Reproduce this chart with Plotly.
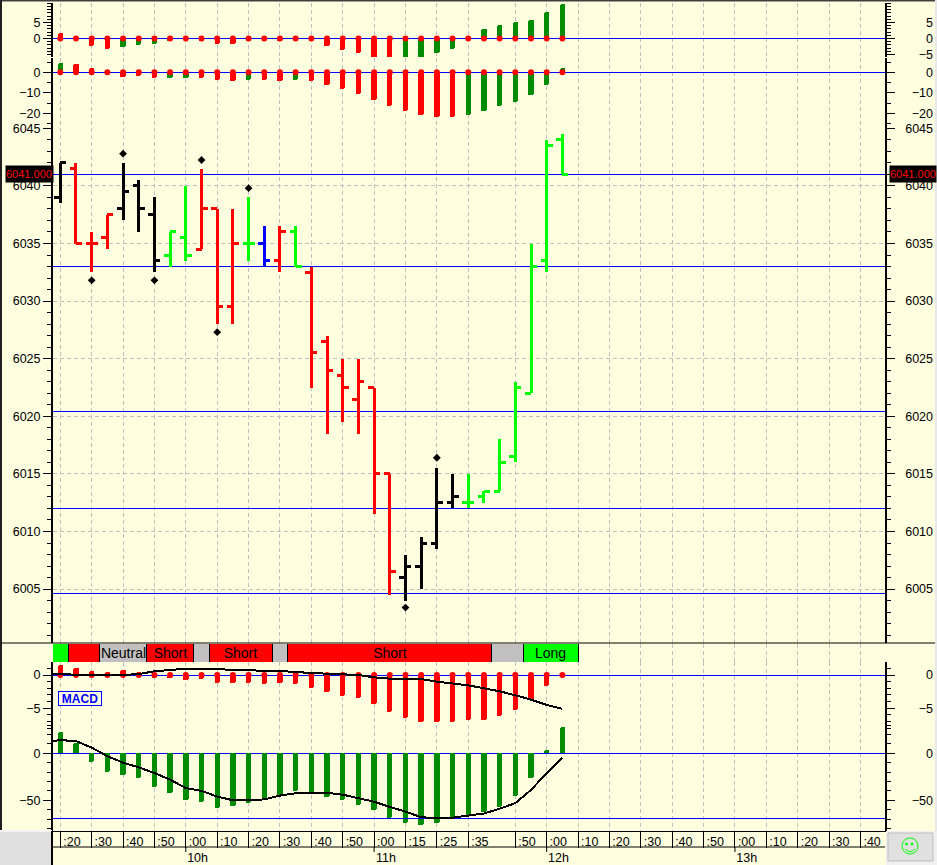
import plotly.graph_objects as go

W, H = 937, 865
BG = "#FFFFE0"
RED, LIME, DKGREEN, BLUE, GRID = "#FF0000", "#00FF00", "#008C00", "#0000FF", "#C0C0C0"

# ---- data -----
bar_index = list(range(33))

open_ = [6039,6041.5,6035,6035.5,6038,6040,6037.5,6034,6035.5,6034.5,6038,6029.5,6035,6035,6033.5,6036,6032.5,
         6026.5,6023.5,6021.5,6022.5,6015,6006,6007,6009,6012.5,6012.5,6013,6013.5,6016.5,6022,6033.5,6044]
high = [6042,6042,6036,6037.5,6042,6040.5,6039,6036,6040,6041.5,6038,6038,6039,6036.5,6036.5,6036.5,6033,
        6027,6025,6025,6022.5,6015,6008,6009.5,6015.5,6015,6015,6013.5,6018,6023,6035,6044,6044.5]
low = [6038.5,6035,6032.5,6034.5,6037,6036,6032.5,6033,6033.5,6034.5,6028,6028,6033.5,6033,6032.5,6033,6022.5,
       6018.5,6019.5,6018.5,6011.5,6004.5,6004,6005,6008.5,6012,6012,6012.5,6013.5,6016,6022,6032.5,6041]
close = [6042,6035,6035,6037.5,6039.5,6038,6033.5,6036,6034,6038,6029.5,6035,6035,6033.5,6036,6033,6025.5,
         6024,6022.5,6023,6015,6006.5,6007,6009,6012.5,6013,6012.5,6013.5,6016,6022.5,6033,6043.5,6041]
bar_color = ["k","r","r","r","k","k","k","g","g","r","r","r","g","b","r","g","r",
             "r","r","r","r","r","k","k","k","k","g","g","g","g","g","g","g"]

diamond_x = [2, 4, 6, 9, 10, 12, 22, 24]
diamond_y = [6031.8, 6042.8, 6031.8, 6042.25, 6027.3, 6039.8, 6003.4, 6016.4]
price_levels = [6041, 6033, 6020.4, 6012, 6004.6]

p1_vals = [1.6,0,-2.4,-3.4,-2.8,-2.1,-1.8,-0.9,0,-0.9,-1.6,-1.6,-0.9,-0.8,-0.9,0,-0.8,
           -2.5,-3.7,-4.7,-6,-6.3,-6.3,-6,-4.7,-3.2,0,2.8,4.3,5,5.9,8.1,10.6]
p1_cols = ["r","r","r","r","g","g","g","g","r","r","r","r","g","g","r","r","r",
           "r","r","r","r","r","g","g","g","g","r","g","g","g","g","g","g"]
p2_vals = [4.4,3.9,2,-1,-2.3,-2,-2.6,-2.6,-2.6,-2.6,-3.6,-4,-3.6,-3.6,-4,-3.6,-4,
           -6,-8,-10.4,-13.3,-16.3,-18.7,-20.6,-22,-22,-20.6,-18.7,-16.3,-14.3,-10.9,-6,2]
p2_cols = ["g","r","r","r","r","r","r","g","g","r","r","r","g","r","r","g","r",
           "r","r","r","r","r","r","r","r","r","g","g","g","g","g","g","g"]

macd_a_vals = [1.5,1,0.6,0.5,0.7,0.4,-0.4,-0.4,-0.8,-0.6,-1.2,-1.2,-1.2,-1.4,-1.2,-1.4,-2,
               -2.6,-3.2,-3.5,-4.4,-5.6,-6.5,-7,-7,-7,-6.8,-6.7,-6.2,-5.3,-3.8,-1.7,0]
macd_a_line_x = [-0.47] + bar_index
macd_a_line = [0.1,0.1,0.1,0,0,0,0.15,0.55,0.75,0.95,0.9,0.8,0.8,0.75,0.6,0.6,0.4,0.3,
               0.2,0.05,0,-0.35,-0.55,-0.6,-0.6,-1,-1.25,-1.55,-2,-2.45,-3.05,-3.7,-4.5,-5.1]
macd_b_vals = [23,10.6,-9,-19.5,-23,-26,-35.5,-42,-50,-51.5,-58,-56.5,-52.5,-49,-44,-40,-42,
               -46,-50,-54.6,-60,-68.5,-74,-76,-74,-68.5,-67,-62,-56.7,-45,-26,3,27.6]
macd_b_line = [13,14,13,6,-3,-10,-15,-21,-28,-37,-40,-46,-50,-50,-49,-45,-42.5,-42,
               -42,-44,-48,-51.5,-57,-62,-68,-69,-68.5,-66,-64,-59,-53,-39,-21,-4.6]
macd_b_level = -69

band_edges = [-0.5,0.5,2.5,5.5,8.5,9.5,13.5,14.5,27.5,29.5,33]
band_labels = ["","","Neutral","Short","","Short","","Short","","Long"]
band_colors = [LIME,RED,GRID,RED,GRID,RED,GRID,RED,GRID,LIME]

grid_ticks = [0,2,4,6,8,10,12,14,16,18,20,22,24,26,29,31,33,35,37,39,41,43,45,47,49,51]
minute_labels = [":20",":30",":40",":50",":00",":10",":20",":30",":40",":50",":00",":15",":25",":35",
                 ":50",":00",":10",":20",":30",":40",":50",":00",":10",":20",":30",":40"]
hour_ticks = [8,20,31,43]
hour_labels = ["10h","11h","12h","13h"]

# ---- geometry helpers -----
X0, X1 = 53, 885
PX_PER_BAR = 15.69
def xval(px): return (px - 60.3) / PX_PER_BAR
XR = [xval(X0), xval(X1)]
def ypaper(px): return 1 - px / H
def panel(top, bot, y0_px, y0_val, px_per_unit):
    return dict(domain=[ypaper(bot), ypaper(top)],
                range=[y0_val + (y0_px - bot) / px_per_unit, y0_val + (y0_px - top) / px_per_unit])

COL = {"k": "#000000", "r": RED, "g": LIME, "b": BLUE}
BARCOL = {"r": RED, "g": DKGREEN}
FONT = "Liberation Sans"

panels = [
    dict(geo=panel(3, 57, 38.4, 0, 3.2), left=[5, 0], right=[5, 0, -5], minor=1, zero=True),
    dict(geo=panel(58, 128, 72.3, 0, 2.05), left=[0, -10, -20], right=[0, -10, -20], minor=5, zero=True),
    dict(geo=panel(128, 643, 128.3, 6045, 11.52), left=list(range(6045, 6004, -5)), right=list(range(6045, 6004, -5)), minor=1, zero=False),
    None,  # band
    dict(geo=panel(662, 729, 675, 0, 6.65), left=[0, -5], right=[0, -5], minor=1, zero=True),
    dict(geo=panel(725, 831, 753.3, 0, 0.94), left=[0, -50], right=[0, -50], minor=10, zero=True),
]

fig = go.Figure()
layout = {}
XAX = dict(range=XR, domain=[X0 / W, X1 / W], tickmode="array", fixedrange=True)
layout["xaxis"] = dict(XAX, anchor="y6", tickvals=grid_ticks, showticklabels=False, ticks="outside", ticklen=16,
                       tickcolor="#000", tickwidth=1, showgrid=True, gridcolor=GRID, griddash="4px,3px", gridwidth=1,
                       showline=True, linecolor="#000", linewidth=1, zeroline=False)
pos831 = ypaper(831)
tick_font = dict(family=FONT, size=12.5, color="#000")
layout["xaxis2"] = dict(XAX, overlaying="x", anchor="free", position=pos831, tickvals=[t + 0.74 for t in grid_ticks],
                        ticktext=minute_labels, ticks="", showgrid=False, showline=False, zeroline=False,
                        tickfont=tick_font, ticklabelstandoff=1)
layout["xaxis3"] = dict(XAX, overlaying="x", anchor="free", position=pos831, tickvals=[t + 0.75 for t in hour_ticks],
                        ticktext=hour_labels, ticks="", showgrid=False, showline=False, zeroline=False,
                        tickfont=tick_font, ticklabelstandoff=17)

def add_hidden(x, y, xaxis="x"):
    fig.add_trace(go.Scatter(x=[x], y=[y], xaxis=xaxis, yaxis=y_name, mode="markers", marker=dict(opacity=0, size=1),
                             hoverinfo="skip", showlegend=False))

next_ax = 7
for n, p in enumerate(panels, start=1):
    if p is None:
        continue
    minor = dict(ticks="outside", ticklen=4, tickcolor="#000", tickwidth=1, tickmode="linear", tick0=0, dtick=p["minor"], showgrid=False)
    common = dict(p["geo"], fixedrange=True, tickmode="array")
    key = "yaxis" if n == 1 else f"yaxis{n}"
    is_price = n == 3
    layout[key] = dict(common, anchor="x", side="left", tickvals=p["left"], ticks="outside", ticklen=8, tickcolor="#000",
                       tickwidth=1, minor=minor, showline=True, linecolor="#000", linewidth=2, tickfont=tick_font,
                       showgrid=is_price, gridcolor=GRID, griddash="4px,3px", gridwidth=1,
                       zeroline=p["zero"], zerolinecolor=BLUE, zerolinewidth=1, tickformat="d")
    rk = next_ax; next_ax += 1
    main_ref = "y" if n == 1 else f"y{n}"
    layout[f"yaxis{rk}"] = dict(common, anchor="x", side="right", overlaying=main_ref, tickvals=p["right"], ticks="outside",
                                ticklen=8, tickcolor="#000", tickwidth=1, minor=minor, showline=True, linecolor="#000",
                                linewidth=2, showticklabels=False, showgrid=False, zeroline=False)
    y_name = f"y{rk}"; add_hidden(0, p["right"][0])
    lk = next_ax; next_ax += 1
    layout[f"yaxis{lk}"] = dict(common, anchor="free", position=933 / W, side="left", overlaying=main_ref, tickvals=p["right"],
                                ticks="", showline=False, tickfont=tick_font, showgrid=False, zeroline=False, tickformat="d")
    y_name = f"y{lk}"; add_hidden(0, p["right"][0])

y_name = "y6"; add_hidden(0, 0, "x2"); add_hidden(0, 0, "x3")

BAR_W = 5.4 / PX_PER_BAR
def osc(vals, cols, yaxis):
    fig.add_trace(go.Bar(x=bar_index, y=vals, width=BAR_W, yaxis=yaxis, showlegend=False, hoverinfo="skip",
                         marker=dict(color=cols, line=dict(width=0), cornerradius=2)))
def dots(yaxis):
    fig.add_trace(go.Scatter(x=bar_index, y=[0] * len(bar_index), yaxis=yaxis, mode="markers", showlegend=False, hoverinfo="skip",
                             marker=dict(color=RED, size=6, line=dict(width=0))))

osc(p1_vals, [BARCOL[c] for c in p1_cols], "y"); dots("y")
osc(p2_vals, [BARCOL[c] for c in p2_cols], "y2"); dots("y2")

for lv in price_levels:
    fig.add_trace(go.Scatter(x=XR, y=[lv, lv], yaxis="y3", mode="lines", line=dict(color=BLUE, width=1),
                             showlegend=False, hoverinfo="skip"))
TICK = 6 / PX_PER_BAR
for key, color in COL.items():
    xs, ys = [], []
    for i, c in enumerate(bar_color):
        if c != key:
            continue
        xs += [i, i, None, i - TICK, i, None, i, i + TICK, None]
        ys += [low[i], high[i], None, open_[i], open_[i], None, close[i], close[i], None]
    fig.add_trace(go.Scatter(x=xs, y=ys, yaxis="y3", mode="lines", line=dict(color=color, width=3),
                             showlegend=False, hoverinfo="skip", connectgaps=False))
fig.add_trace(go.Scatter(x=diamond_x, y=diamond_y, yaxis="y3", mode="markers", showlegend=False, hoverinfo="skip",
                         marker=dict(symbol="diamond", color="#000", size=6, line=dict(width=0))))

layout["yaxis4"] = dict(domain=[ypaper(662), ypaper(643.5)], range=[0, 1], anchor="x", visible=False, fixedrange=True)
centres = [(a + b) / 2 for a, b in zip(band_edges[:-1], band_edges[1:])]
widths = [b - a for a, b in zip(band_edges[:-1], band_edges[1:])]
fig.add_trace(go.Bar(x=centres, y=[1] * len(centres), width=widths, yaxis="y4", text=band_labels, textposition="inside",
                     insidetextanchor="middle", textangle=0, constraintext="none", showlegend=False, hoverinfo="skip",
                     textfont=dict(family=FONT, size=14, color="#000"), marker=dict(color=band_colors, line=dict(width=0))))
sx, sy = [], []
for e in band_edges[1:]:
    sx += [e, e, None]; sy += [0, 1, None]
fig.add_trace(go.Scatter(x=sx, y=sy, yaxis="y4", mode="lines", line=dict(color="#000", width=1), showlegend=False, hoverinfo="skip"))

osc(macd_a_vals, [RED] * len(macd_a_vals), "y5"); dots("y5")
fig.add_trace(go.Scatter(x=macd_a_line_x, y=macd_a_line, yaxis="y5", mode="lines", line=dict(color="#000", width=2), showlegend=False, hoverinfo="skip"))
osc(macd_b_vals, [DKGREEN] * len(macd_b_vals), "y6")
fig.add_trace(go.Scatter(x=XR, y=[macd_b_level, macd_b_level], yaxis="y6", mode="lines", line=dict(color=BLUE, width=1), showlegend=False, hoverinfo="skip"))
fig.add_trace(go.Scatter(x=macd_a_line_x, y=macd_b_line, yaxis="y6", mode="lines", line=dict(color="#000", width=2), showlegend=False, hoverinfo="skip"))

def pline(x0, y0, x1, y1, color="#000", width=1):
    return dict(type="line", xref="paper", yref="paper", x0=x0 / W, x1=x1 / W, y0=ypaper(y0), y1=ypaper(y1), line=dict(color=color, width=width))
def prect(x0, y0, x1, y1, fill, line=None):
    return dict(type="rect", xref="paper", yref="paper", x0=x0 / W, x1=x1 / W, y0=ypaper(y0), y1=ypaper(y1), fillcolor=fill,
                line=dict(color=line or fill, width=1 if line else 0))
shapes = [
    pline(0, 0.5, 937, 0.5, "#404040", 2),
    pline(1, 0, 1, 831, "#202020", 2),
    pline(1, 643, 935, 643),
    prect(935, 0, 937, 865, "#E8E8E8"),
    prect(0, 831, 51, 865, "#E0E0E0"),
    pline(0, 831, 52, 831, "#F4F4F4", 2),
    pline(52, 831, 52, 865, "#000", 2),
    pline(52, 847, 885, 847),
    prect(886, 831, 937, 865, "#F0F0F0"),
    prect(888, 833, 933, 861, "#E0E0E0", "#BDBDBD"),
    dict(type="circle", xref="paper", yref="paper", x0=902 / W, x1=918 / W, y0=ypaper(854), y1=ypaper(838), line=dict(color=LIME, width=1)),
    dict(type="circle", xref="paper", yref="paper", x0=905.5 / W, x1=907.5 / W, y0=ypaper(845), y1=ypaper(843), fillcolor=LIME, line=dict(color=LIME, width=1)),
    dict(type="circle", xref="paper", yref="paper", x0=911 / W, x1=913 / W, y0=ypaper(845), y1=ypaper(843), fillcolor=LIME, line=dict(color=LIME, width=1)),
    dict(type="path", xref="paper", yref="paper", line=dict(color=LIME, width=1),
         path=f"M {905/W} {ypaper(849)} Q {910/W} {ypaper(854)} {915/W} {ypaper(849)}"),
]
for h in hour_ticks:
    shapes.append(dict(type="line", xref="x", yref="paper", x0=h, x1=h, y0=ypaper(847), y1=ypaper(852), line=dict(color="#000", width=1)))

level_font = dict(family=FONT, size=11, color=RED)
annotations = [
    dict(text="6041.000", xref="paper", yref="paper", x=5 / W, y=ypaper(174), xanchor="left", yanchor="middle", showarrow=False,
         bgcolor="#000", font=level_font, width=47, height=16, align="left", borderpad=0),
    dict(text="6041.000", xref="paper", yref="paper", x=889 / W, y=ypaper(174), xanchor="left", yanchor="middle", showarrow=False,
         bgcolor="#000", font=level_font, width=46, height=16, align="left", borderpad=0),
    dict(text="<b>MACD</b>", xref="paper", yref="paper", x=57.5 / W, y=ypaper(698), xanchor="left", yanchor="middle", showarrow=False,
         bgcolor=BG, bordercolor=BLUE, borderwidth=1, borderpad=0, width=42, height=13, font=dict(family=FONT, size=12, color=BLUE)),
]

fig.update_layout(width=W, height=H, margin=dict(l=0, r=0, t=0, b=0, pad=0, autoexpand=False), autosize=False,
                  paper_bgcolor=BG, plot_bgcolor=BG,
                  barmode="overlay", bargap=0, showlegend=False, hovermode=False, shapes=shapes, annotations=annotations,
                  font=dict(family=FONT, size=14, color="#000"), **layout)

fig.write_html("out.html", config=dict(displayModeBar=False, responsive=False),
               post_script="document.body.style.margin='0';document.documentElement.style.overflow='hidden';"
                           "var s=document.createElement('style');s.textContent='.js-line{shape-rendering:crispEdges}';document.head.appendChild(s);")
